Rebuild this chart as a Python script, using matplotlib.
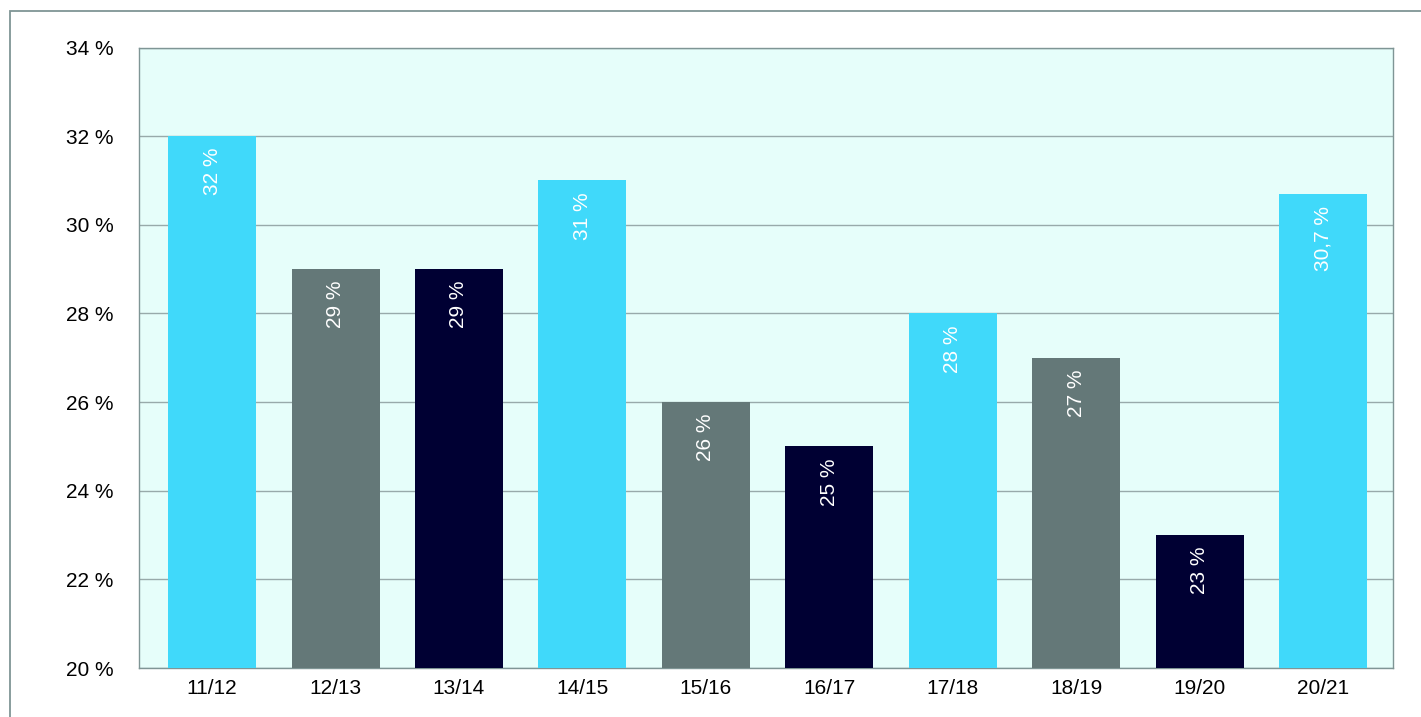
import matplotlib
matplotlib.use('Agg')
import matplotlib.pyplot as plt
from matplotlib.patches import Rectangle

# data
seasons = ['11/12', '12/13', '13/14', '14/15', '15/16', '16/17', '17/18', '18/19', '19/20', '20/21']
values = [32, 29, 29, 31, 26, 25, 28, 27, 23, 30.7]
value_labels = ['32 %', '29 %', '29 %', '31 %', '26 %', '25 %', '28 %', '27 %', '23 %', '30,7 %']
colours = ['#40D9FA', '#647878', '#000033', '#40D9FA', '#647878', '#000033',
           '#40D9FA', '#647878', '#000033', '#40D9FA']
yticks = [20, 22, 24, 26, 28, 30, 32, 34]

plt.rcParams['font.family'] = ['Liberation Sans', 'DejaVu Sans']

W, H = 1421, 717
fig = plt.figure(figsize=(W / 100, H / 100), dpi=100)

# outer frame (runs off the right and bottom edge)
fig.patches.append(Rectangle((10 / W, -0.1), 1.2, 1 - 10.5 / H + 0.1,
                             transform=fig.transFigure, fill=False,
                             edgecolor='#7F9595', linewidth=1.3))

left, right, top, bottom = 138.5, 1393, 47.5, 668
ax = fig.add_axes([left / W, 1 - bottom / H, (right - left) / W, (bottom - top) / H])
ax.set_facecolor('#E6FEFA')

x = list(range(len(seasons)))
ax.bar(x, values, width=0.713, color=colours, zorder=3)
ax.set_xlim(-0.596, 9.567)
ax.set_ylim(20, 34)

for xi, v, lab in zip(x, values, value_labels):
    ax.annotate(lab, (xi, v), xytext=(0, -8.5), textcoords='offset points',
                rotation=90, ha='center', va='top', color='white', fontsize=15,
                zorder=4)

ax.set_yticks(yticks)
ax.set_yticklabels([str(t) + ' %' for t in yticks])
ax.set_xticks(x)
ax.set_xticklabels(seasons)
ax.tick_params(axis='y', length=0, pad=18, labelsize=15)
ax.tick_params(axis='x', length=0, pad=8, labelsize=15)
ax.yaxis.grid(True, color='#98AAAA', linewidth=1.0, zorder=1)
ax.set_axisbelow(True)
for s in ax.spines.values():
    s.set_color('#7F9595')
    s.set_linewidth(1.0)

fig.savefig('out.png', dpi=100)
